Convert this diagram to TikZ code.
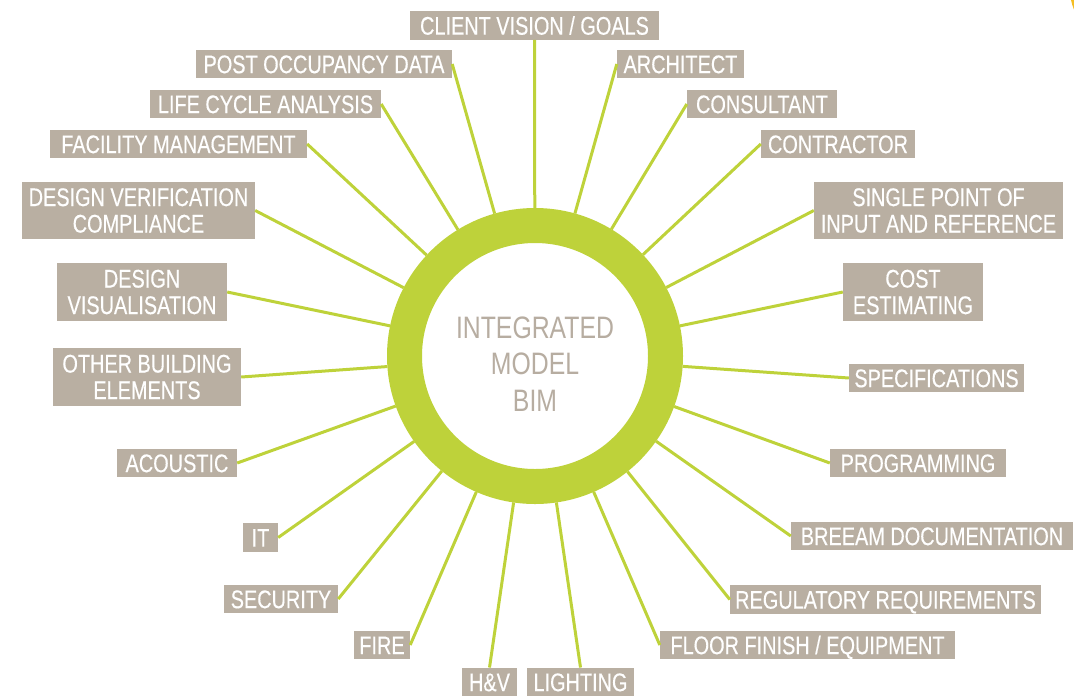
\documentclass[tikz,border=0pt]{standalone}
\usepackage{fontspec}
\setmainfont{Liberation Sans}[FakeStretch=0.8]
\newfontfamily\lblfont{Liberation Sans}[FakeStretch=0.78, FakeBold=0.35]
\definecolor{ringgreen}{RGB}{190,210,58}
\definecolor{boxtan}{RGB}{185,175,162}
\definecolor{hubtext}{RGB}{183,173,161}
\definecolor{cornergold}{RGB}{245,190,35}
\tikzset{
  lbl/.style={fill=boxtan, text=white, inner sep=0pt, minimum height=28.5pt,
    font=\lblfont\fontsize{25.5}{26.5}\selectfont},
  oneline/.style={lbl, text height=18.3pt, text depth=0pt},
  twoline/.style={lbl, align=center, minimum height=57.5pt},
  conn/.style={draw=ringgreen, line width=3pt},
}
\begin{document}
\begin{tikzpicture}[x=1pt,y=-1pt]
\useasboundingbox (0,0) rectangle (1074,697);
\clip (0,0) rectangle (1074,697);
\fill[cornergold] (1120,-10) circle (50pt);

% hub ring
\node[circle, draw=ringgreen, line width=35pt, minimum size=261pt, inner sep=0pt, outer sep=17.5pt, fill=white] (hub) at (535,356) {};
\node[font=\fontsize{31}{36.5}\selectfont, text=hubtext, align=center] (bim) at (535,364) {INTEGRATED\\MODEL\\BIM};

% labels
\node[oneline, minimum width=249pt] (client) at (534.5,25.5) {CLIENT VISION / GOALS};
\node[oneline, minimum width=256pt] (post) at (324,64) {POST OCCUPANCY DATA};
\node[oneline, minimum width=127pt] (arch) at (680.5,64) {ARCHITECT};
\node[oneline, minimum width=150pt] (cons) at (762,104) {CONSULTANT};
\node[oneline, minimum width=154pt] (contr) at (838,144) {CONTRACTOR};
\node[twoline, minimum width=249pt] (single) at (938.5,210.5) {SINGLE POINT OF\\INPUT AND REFERENCE};
\node[twoline, minimum width=140pt] (cost) at (913,292) {COST\\ESTIMATING};
\node[oneline, minimum width=175pt] (spec) at (936.5,378) {SPECIFICATIONS};
\node[oneline, minimum width=176pt] (prog) at (918,463) {PROGRAMMING};
\node[oneline, minimum width=282pt] (breeam) at (932,536) {BREEAM DOCUMENTATION};
\node[oneline, minimum width=311pt] (reg) at (885.5,599.5) {REGULATORY REQUIREMENTS};
\node[oneline, minimum width=295pt] (floor) at (807.5,645) {FLOOR FINISH / EQUIPMENT};
\node[oneline, minimum width=107pt] (light) at (580.5,682) {LIGHTING};
\node[oneline, minimum width=55pt] (hv) at (489.5,682) {H\&V};
\node[oneline, minimum width=56pt] (fire) at (382,645) {FIRE};
\node[oneline, minimum width=114pt] (sec) at (281,599) {SECURITY};
\node[oneline, minimum width=35pt] (it) at (260.5,537.5) {IT};
\node[oneline, minimum width=120pt] (acou) at (177,463) {ACOUSTIC};
\node[twoline, minimum width=188pt] (other) at (147,377) {OTHER BUILDING\\ELEMENTS};
\node[twoline, minimum width=170pt] (dvis) at (142,292) {DESIGN\\VISUALISATION};
\node[twoline, minimum width=233pt] (dver) at (138.5,210.5) {DESIGN VERIFICATION\\COMPLIANCE};
\node[oneline, minimum width=257pt] (fac) at (178.5,144) {FACILITY MANAGEMENT};
\node[oneline, minimum width=231pt] (life) at (265.5,104) {LIFE CYCLE ANALYSIS};

% connectors
\draw[conn] (client.south) -- (hub);
\draw[conn] (post.east) -- (hub);
\draw[conn] (arch.west) -- (hub);
\draw[conn] (cons.west) -- (hub);
\draw[conn] (contr.west) -- (hub);
\draw[conn] (single.west) -- (hub);
\draw[conn] (cost.west) -- (hub);
\draw[conn] (spec.west) -- (hub);
\draw[conn] (prog.west) -- (hub);
\draw[conn] (breeam.west) -- (hub);
\draw[conn] (reg.west) -- (hub);
\draw[conn] (floor.west) -- (hub);
\draw[conn] (light.north) -- (hub);
\draw[conn] (hv.north) -- (hub);
\draw[conn] (fire.east) -- (hub);
\draw[conn] (sec.east) -- (hub);
\draw[conn] (it.east) -- (hub);
\draw[conn] (acou.east) -- (hub);
\draw[conn] (other.east) -- (hub);
\draw[conn] (dvis.east) -- (hub);
\draw[conn] (dver.east) -- (hub);
\draw[conn] (fac.east) -- (hub);
\draw[conn] (life.east) -- (hub);
\end{tikzpicture}
\end{document}
